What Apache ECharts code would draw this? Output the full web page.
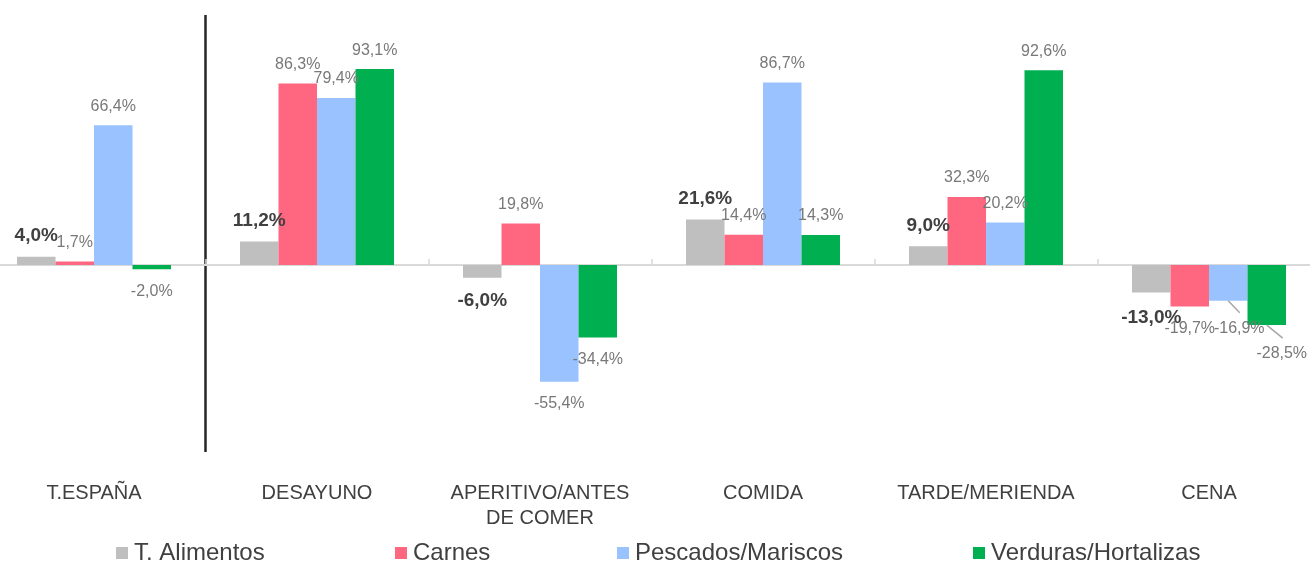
<!DOCTYPE html>
<html>
<head>
<meta charset="utf-8">
<script src="https://cdn.jsdelivr.net/npm/echarts@6/dist/echarts.min.js"></script>
<style>
  html, body { margin: 0; padding: 0; background: #fff; }
  #chart { width: 1310px; height: 563px; }
</style>
</head>
<body>
<div id="chart"></div>
<script>
// categorías y valores (variación %)
var categories = ['T.ESPAÑA', 'DESAYUNO', 'APERITIVO/ANTES\nDE COMER', 'COMIDA', 'TARDE/MERIENDA', 'CENA'];
var alimentos = [4.0, 11.2, -6.0, 21.6, 9.0, -13.0];
var carnes    = [1.7, 86.3, 19.8, 14.4, 32.3, -19.7];
var pescados  = [66.4, 79.4, -55.4, 86.7, 20.2, -16.9];
var verduras  = [-2.0, 93.1, -34.4, 14.3, 92.6, -28.5];

var names  = ['T. Alimentos', 'Carnes', 'Pescados/Mariscos', 'Verduras/Hortalizas'];
var colors = ['#bfbfbf', '#ff6680', '#99c2ff', '#00b050'];
var FONT = 'Liberation Sans, Arial, sans-serif';
var BAR_W = 38.5;

// desplazamientos de etiquetas que se solapan (CENA): [dx, dy]
var labelMoves = {
    0: { 5: [0, 2] },
    2: { 5: [11, 6] },
    3: { 5: [15, 7] }
};
// líneas guía de las etiquetas desplazadas: [serie, categoría, dx, dy]
var guides = [[2, 5, 11.5, 12], [3, 5, 16, 13]];
var allSeries = [alimentos, carnes, pescados, verduras];

function fmt(p) {
    return p.value.toFixed(1).replace('.', ',') + '%';
}

function makeSeries(idx, data) {
    var bold = idx === 0;
    var moves = labelMoves[idx] || {};
    return {
        name: names[idx],
        type: 'bar',
        data: data.map(function (v) {
            return { value: v, label: { distance: v < 0 ? 14 : 11 } };
        }),
        barWidth: BAR_W,
        barGap: '0%',
        itemStyle: { color: colors[idx] },
        label: {
            show: true,
            position: 'outside',
            formatter: fmt,
            fontFamily: FONT,
            fontSize: bold ? 19 : 16,
            fontWeight: bold ? 'bold' : 'normal',
            color: bold ? '#404040' : '#787878'
        },
        labelLayout: function (params) {
            var m = moves[params.dataIndex];
            if (m) return { dx: m[0], dy: m[1] };
        }
    };
}

var legendLeft = [116, 395, 617, 973];
var legends = names.map(function (n, i) {
    return {
        data: [n],
        left: legendLeft[i],
        top: 541,
        padding: 0,
        icon: 'rect',
        itemWidth: 12,
        itemHeight: 12,
        itemGap: 6,
        selectedMode: false,
        textStyle: { fontFamily: FONT, fontSize: 24, color: '#404040', padding: [0, 0, 0, 1] }
    };
});

// separador vertical solo entre T.ESPAÑA y DESAYUNO
var splitColors = ['rgba(0,0,0,0)', '#262626', 'rgba(0,0,0,0)', 'rgba(0,0,0,0)',
                   'rgba(0,0,0,0)', 'rgba(0,0,0,0)', 'rgba(0,0,0,0)'];

var guideSeries = {
    type: 'custom',
    name: 'guias',
    silent: true,
    z: 3,
    data: guides.map(function (g) {
        return [g[1], allSeries[g[0]][g[1]], g[0], g[2], g[3]];
    }),
    renderItem: function (params, api) {
        var p = api.coord([api.value(0), api.value(1)]);
        var x0 = p[0] + (api.value(2) - 1.5) * BAR_W;
        var y0 = p[1];
        return {
            type: 'line',
            shape: { x1: x0, y1: y0, x2: x0 + api.value(3), y2: y0 + api.value(4) },
            style: { stroke: '#a6a6a6', lineWidth: 1.5 }
        };
    }
};

var option = {
    animation: false,
    backgroundColor: '#ffffff',
    legend: legends,
    grid: {
        left: -17.5, right: -10.5, top: 15, bottom: 111,
        containLabel: false,
        outerBoundsMode: 'none'
    },
    xAxis: [
        {   // etiquetas abajo
            type: 'category',
            data: categories,
            position: 'bottom',
            axisLine: { show: false, onZero: false },
            axisTick: { show: false },
            axisLabel: {
                margin: 29,
                fontFamily: FONT,
                fontSize: 20,
                lineHeight: 25,
                color: '#404040',
                interval: 0
            },
            splitLine: { show: false }
        },
        {   // línea de cero + separador
            type: 'category',
            data: categories,
            axisLine: { show: true, onZero: true, lineStyle: { color: '#d9d9d9', width: 2 } },
            axisTick: { show: true, length: 6, lineStyle: { color: '#d9d9d9', width: 1.5 } },
            axisLabel: { show: false },
            splitLine: {
                show: true,
                interval: 0,
                lineStyle: { color: splitColors, width: 2.5 }
            }
        }
    ],
    yAxis: {
        type: 'value',
        min: -88.8,
        max: 118.8,
        show: false,
        splitLine: { show: false }
    },
    series: [
        makeSeries(0, alimentos),
        makeSeries(1, carnes),
        makeSeries(2, pescados),
        makeSeries(3, verduras),
        guideSeries
    ]
};

var chart = echarts.init(document.getElementById('chart'));
chart.setOption(option);
</script>
</body>
</html>
